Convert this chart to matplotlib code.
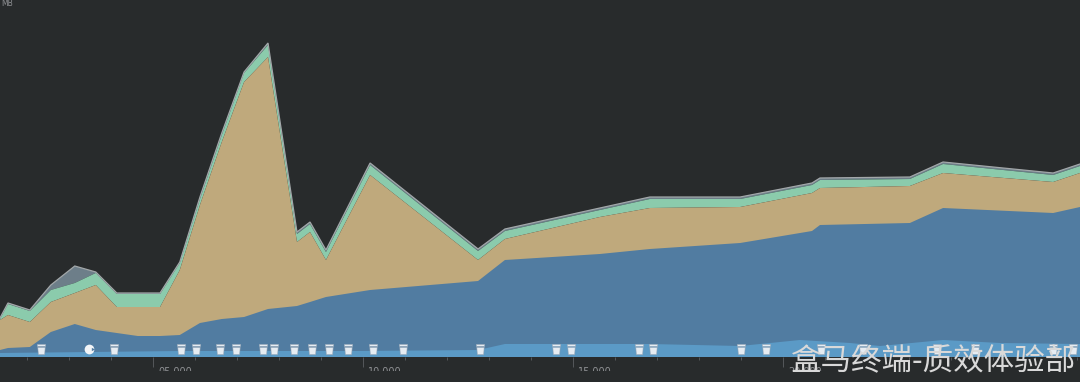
import matplotlib
matplotlib.use("Agg")
import matplotlib.pyplot as plt
from matplotlib.path import Path
from matplotlib.ticker import FixedLocator, FixedFormatter
from matplotlib.transforms import ScaledTranslation, Bbox, TransformedBbox, IdentityTransform

plt.rcParams['font.family'] = ['Noto Sans CJK SC', 'DejaVu Sans']

# Time in seconds, stack tops in MB (arbitrary scale)
times = [1.36, 1.55, 2.07, 2.57, 3.14, 3.64, 4.14, 4.64, 5.17, 5.64, 6.12, 6.64, 7.17, 7.74, 8.43,
         8.74, 9.12, 10.17, 12.74, 13.38, 15.64, 16.83, 18.98, 20.69, 20.88, 23.02, 23.81, 26.43, 27.07]
total = [39, 54, 47, 72, 91, 85, 64, 64, 64, 95, 160, 224, 285, 314, 125,
         135, 107, 194, 108, 128, 149, 160, 160, 174, 179, 180, 195, 184, 193]
green_top = [38, 53, 46, 67, 74, 84, 63, 63, 63, 94, 158, 222, 284, 312, 123,
             133, 105, 192, 106, 126, 147, 158, 158, 172, 177, 178, 193, 182, 191]
tan_top = [37, 42, 35, 55, 64, 72, 50, 50, 50, 87, 152, 215, 275, 300, 115,
           125, 97, 182, 97, 118, 140, 149, 150, 164, 169, 171, 184, 175, 184]
blue_top = [7, 9, 10, 25, 33, 27, 24, 21, 21, 22, 34, 38, 40, 48, 51,
            55, 60, 67, 76, 97, 103, 108, 114, 126, 132, 134, 149, 144, 150]
light_times = [1.36, 5.64, 9.93, 12.74, 13.38, 16.83, 18.98, 20.40, 21.60, 22.31, 23.81, 25.17, 27.07]
light_top = [4, 6, 6, 7, 13, 13, 11, 17, 14, 11, 17, 14, 13]
gc_events = [2.33, 4.07, 5.67, 6.02, 6.60, 6.98, 7.62, 7.88, 8.36, 8.79, 9.19, 9.64, 10.24, 10.95,
             12.79, 14.60, 14.95, 16.57, 16.90, 19.00, 19.60, 20.90, 21.90, 23.67, 24.57, 26.43, 26.90]
snapshot_events = [3.48]
major_ticks = [5, 10, 15, 20]
major_labels = ['05.000', '10.000', '15.000', '20.000']
minor_ticks = [2, 3, 4, 6, 7, 8, 9, 11, 12, 13, 14, 16, 17, 18, 19, 21, 22, 23, 24, 25, 26, 27]

BG = '#282b2c'
fig = plt.figure(figsize=(10.8, 3.82), dpi=100, facecolor=BG)
ax = fig.add_axes([0, 25 / 382, 1, 357 / 382], facecolor=BG)
ax.set_xlim(1.36, 27.07)
ax.set_ylim(0, 357)

ax.fill_between(times, green_top, total, color='#6d7e89', lw=0)
ax.plot(times, total, color='#a3a8aa', lw=0.9, solid_joinstyle='miter')
ax.fill_between(times, tan_top, green_top, color='#8bcbac', lw=0)
ax.fill_between(times, 0, tan_top, color='#bfa97c', lw=0)
ax.fill_between(times, 0, blue_top, color='#517ca1', lw=0)
ax.fill_between(light_times, 0, light_top, color='#5b9ac6', lw=0)

# Trash-can event marker: lid, then body
trash = Path(
    [(-0.82, 1), (0.82, 1), (0.82, 0.6), (-0.82, 0.6), (-0.82, 1),
     (-0.72, 0.42), (0.72, 0.42), (0.62, -1), (-0.62, -1), (-0.72, 0.42)],
    [1, 2, 2, 2, 79, 1, 2, 2, 2, 79])
ax.plot(gc_events, [8] * len(gc_events), ls='none', marker=trash, ms=7.4,
        mfc='#e6ecf2', mec='#8ea1b3', mew=0.4, zorder=5)
ax.plot(snapshot_events, [8], ls='none', marker='o', ms=7, mfc='#f2f5f8', mew=0, zorder=6)
ax.plot([3.57], [8], ls='none', marker='>', ms=2.4, mfc='#517ca1', mew=0, zorder=7)

for s in ax.spines.values():
    s.set_visible(False)
ax.yaxis.set_visible(False)
ax.xaxis.set_major_locator(FixedLocator(major_ticks))
ax.xaxis.set_major_formatter(FixedFormatter(major_labels))
ax.xaxis.set_minor_locator(FixedLocator(minor_ticks))
ax.tick_params(axis='x', which='major', length=7, width=0.7, color='#55585b', pad=0.5,
               labelsize=7, labelcolor='#8f9194')
ax.tick_params(axis='x', which='minor', length=2.2, width=0.7, color='#55585b')

offset = ScaledTranslation(5 / 100, 0, fig.dpi_scale_trans)
clip = TransformedBbox(Bbox([[0, 11], [1080, 382]]), IdentityTransform())
for lab in ax.get_xticklabels():
    lab.set_ha('left')
    lab.set_family('DejaVu Sans')
    lab.set_transform(lab.get_transform() + offset)
    lab.set_clip_on(True)
    lab.set_clip_box(clip)

fig.text(1 / 1080, 1 - 3 / 382, 'MB', color='#8f9194', fontsize=5.5, ha='left', va='center',
         family='DejaVu Sans')
fig.text(1076 / 1080, 1 - 362 / 382, '盒马终端-质效体验部', color='#d9d9d9', fontsize=22,
         ha='right', va='center', zorder=10)

fig.savefig('out.png', dpi=100, facecolor=BG)
